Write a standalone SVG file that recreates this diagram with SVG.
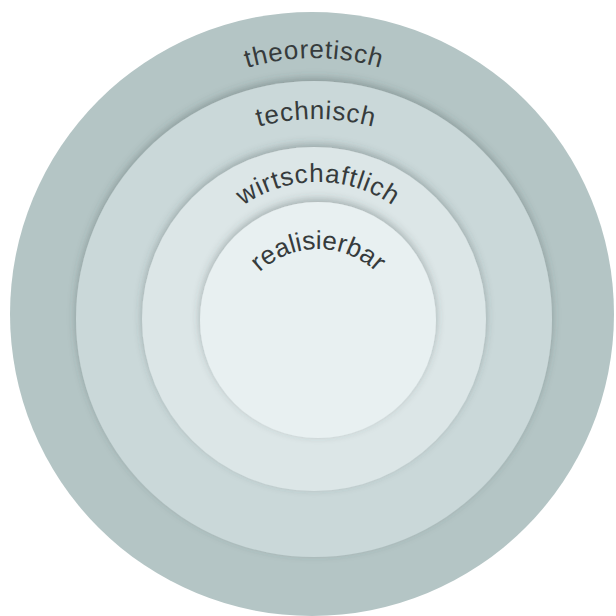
<svg xmlns="http://www.w3.org/2000/svg" xmlns:xlink="http://www.w3.org/1999/xlink" width="616" height="616" viewBox="0 0 616 616">
  <style>
    .lbl { font-family: "Liberation Sans", Arial, sans-serif; font-size: 26px; fill: #363b3c; }
    .sp { letter-spacing: 0.8px; }
  </style>
  <defs>
    <filter id="sh" x="-20%" y="-20%" width="140%" height="140%">
      <feDropShadow dx="0" dy="-3" stdDeviation="4" flood-color="#3a4a4a" flood-opacity="0.35"/>
    </filter>
    <path id="p1" d="M 82 290 A 232 232 0 0 1 546 290"/>
    <path id="p2" d="M 96 339 A 220 220 0 0 1 536 339"/>
    <path id="p3" d="M 188 312 A 130 130 0 0 1 448 312"/>
    <path id="p4" d="M 233 334 A 85 85 0 0 1 403 334"/>
  </defs>
  <rect width="616" height="616" fill="#ffffff"/>
  <g id="theoretisch">
    <circle cx="312" cy="314" r="302" fill="#b4c5c5"/>
    <text class="lbl sp"><textPath xlink:href="#p1" startOffset="50%" text-anchor="middle">theoretisch</textPath></text>
  </g>
  <g id="technisch">
    <circle cx="314" cy="319" r="238" fill="#cad8d9" filter="url(#sh)"/>
    <text class="lbl sp"><textPath xlink:href="#p2" startOffset="50%" text-anchor="middle">technisch</textPath></text>
  </g>
  <g id="wirtschaftlich">
    <circle cx="314" cy="319" r="172" fill="#dce6e7" filter="url(#sh)"/>
    <text class="lbl sp"><textPath xlink:href="#p3" startOffset="50%" text-anchor="middle">wirtschaftlich</textPath></text>
  </g>
  <g id="realisierbar">
    <circle cx="318" cy="320" r="118" fill="#e8f0f1" filter="url(#sh)"/>
    <text class="lbl"><textPath xlink:href="#p4" startOffset="50%" text-anchor="middle">realisierbar</textPath></text>
  </g>
</svg>
